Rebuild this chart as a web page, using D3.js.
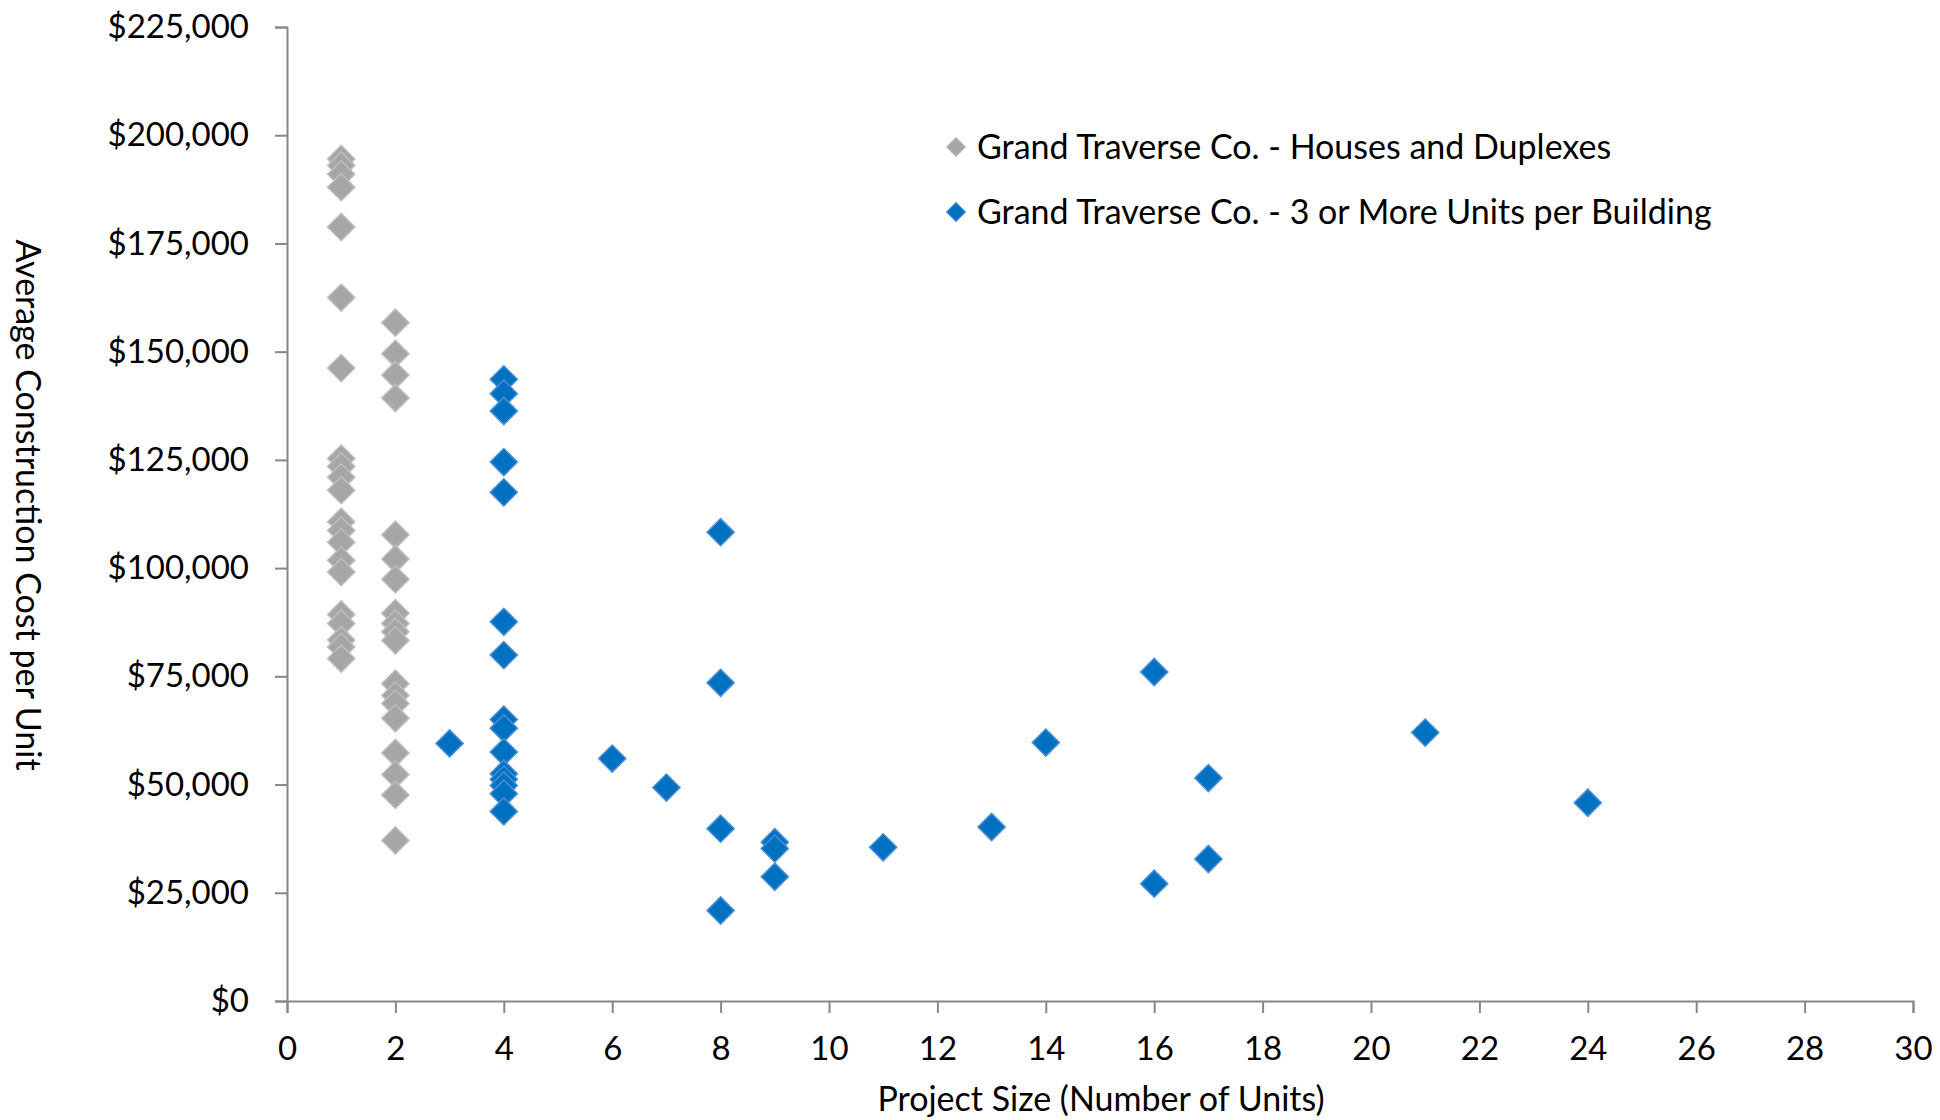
<!DOCTYPE html>
<html>
<head>
<meta charset="utf-8">
<script src="https://cdn.jsdelivr.net/npm/d3@7"></script>
<style>
  body { margin: 0; background: #fff; }
  text { font-family: Lato, "Open Sans", sans-serif; fill: #000; }
</style>
</head>
<body>
<div id="chart"></div>
<script>
// Houses and duplexes (grey)
const houseUnits = [1,1,1,1,1,1,1,1,1,1,1,1,1,1,1,1,1,1,1,1,1,
                    2,2,2,2,2,2,2,2,2,2,2,2,2,2,2,2,2,2,2];
const houseCost = [194500,193000,191000,188000,178800,162500,146200,125300,123500,121000,118000,
                   110700,108700,106000,101800,99100,89300,87200,83400,81800,79100,
                   156700,149500,144600,139300,107700,102100,97400,89600,87200,85300,83300,
                   73300,70600,68700,65300,57300,52300,47600,37100];

// 3 or more units per building (blue)
const multiUnits = [3,4,4,4,4,4,4,4,4,4,4,4,4,4,4,4,6,7,8,8,8,8,9,9,9,11,13,14,16,16,17,17,21,24];
const multiCost = [59500,143600,140300,136300,124500,117500,87600,79900,65000,63000,57500,52500,51200,49800,47900,43800,
                   56000,49300,108300,73500,39800,20900,36700,35200,28700,35500,40200,59700,76000,27100,
                   51500,32800,62000,45800];

const xTicks = d3.range(0, 31, 2);
const yTicks = d3.range(0, 225001, 25000);
const seriesNames = ["Grand Traverse Co. - Houses and Duplexes",
                     "Grand Traverse Co. - 3 or More Units per Building"];

const width = 1940, height = 1120;
const margin = { top: 27, right: 27, bottom: 119, left: 287 };

const svg = d3.select("#chart")
  .append("svg")
  .attr("width", width)
  .attr("height", height);

const x = d3.scaleLinear()
  .domain([0, 30])
  .range([margin.left, width - margin.right]);

const y = d3.scaleLinear()
  .domain([0, 225000])
  .range([height - margin.bottom, margin.top]);

const axisColor = "#878787";

// y axis
const yAxis = svg.append("g")
  .attr("transform", `translate(${margin.left},0)`)
  .call(d3.axisLeft(y).tickValues(yTicks).tickSize(12).tickPadding(26)
    .tickFormat(d => "$" + d3.format(",")(d)));

// x axis
const xAxis = svg.append("g")
  .attr("transform", `translate(0,${height - margin.bottom})`)
  .call(d3.axisBottom(x).tickValues(xTicks).tickSize(12).tickPadding(24));

[yAxis, xAxis].forEach(g => {
  g.select(".domain").attr("stroke", axisColor).attr("stroke-width", 2);
  g.selectAll(".tick line").attr("stroke", axisColor).attr("stroke-width", 2);
  g.selectAll(".tick text").style("font-size", "33px").attr("fill", "#000");
});

// axis titles
svg.append("text")
  .attr("x", 1101)
  .attr("y", 1111)
  .attr("text-anchor", "middle")
  .style("font-size", "34px")
  .text("Project Size (Number of Units)");

svg.append("text")
  .attr("transform", "translate(16,505) rotate(90)")
  .attr("text-anchor", "middle")
  .style("font-size", "34px")
  .text("Average Construction Cost per Unit");

const diamond = d3.symbol().type(d3.symbolSquare).size(370);

// grey series
svg.append("g")
  .selectAll("path")
  .data(houseUnits.map((u, i) => [u, houseCost[i]]))
  .join("path")
  .attr("d", diamond)
  .attr("transform", d => `translate(${x(d[0])},${y(d[1])}) rotate(45)`)
  .attr("fill", "#a6a6a6")
  .attr("stroke", "#bdbdbd")
  .attr("stroke-width", 1.5);

// blue series
svg.append("g")
  .selectAll("path")
  .data(multiUnits.map((u, i) => [u, multiCost[i]]))
  .join("path")
  .attr("d", diamond)
  .attr("transform", d => `translate(${x(d[0])},${y(d[1])}) rotate(45)`)
  .attr("fill", "#0070c0")
  .attr("stroke", "#4a8fd6")
  .attr("stroke-width", 1.5);

// legend
const legendColors = [["#a6a6a6", "#bdbdbd"], ["#0070c0", "#4a8fd6"]];
const legend = svg.append("g").attr("transform", "translate(956,147)");
seriesNames.forEach((name, i) => {
  const row = legend.append("g").attr("transform", `translate(0,${i * 65})`);
  row.append("path")
    .attr("d", d3.symbol().type(d3.symbolSquare).size(180))
    .attr("transform", "rotate(45)")
    .attr("fill", legendColors[i][0])
    .attr("stroke", legendColors[i][1])
    .attr("stroke-width", 1);
  row.append("text")
    .attr("x", 21)
    .attr("dy", "0.35em")
    .style("font-size", "34px")
    .text(name);
});
</script>
</body>
</html>
